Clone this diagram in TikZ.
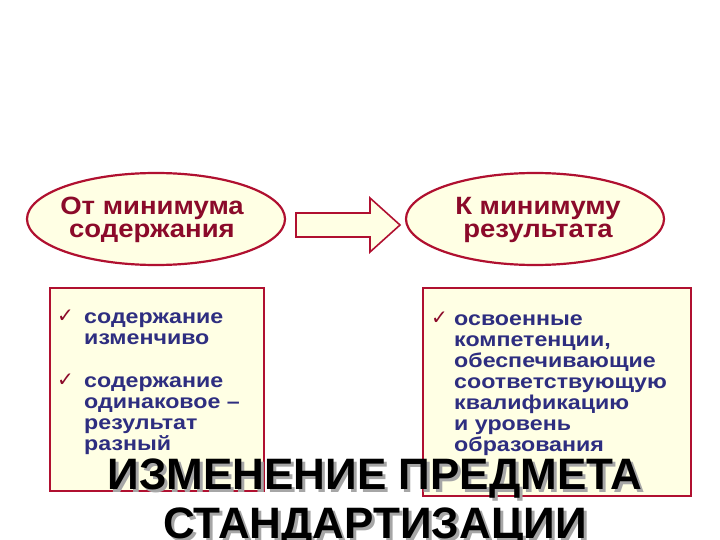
\documentclass[tikz,border=0pt]{standalone}
\usepackage{fontspec}
\setmainfont{Liberation Sans}
\newfontfamily\djv{DejaVu Sans}
\usetikzlibrary{shapes.geometric}
\definecolor{dred}{HTML}{B01030}
\definecolor{ttred}{HTML}{8B0A2A}
\definecolor{navy}{HTML}{2E2E80}
\definecolor{cream}{HTML}{FFFFE4}
\begin{document}
\begin{tikzpicture}[x=1pt,y=-1pt,
 oval/.style={ellipse,draw=dred,line width=2.2pt,fill=cream,minimum width=258pt,minimum height=92pt,inner sep=0pt},
 otext/.style={font=\fontsize{25}{25}\selectfont\bfseries,text=ttred,align=center,xscale=1.1,inner sep=0pt},
 box/.style={draw=dred,line width=1.6pt,inner sep=0pt},
 btext/.style={font=\fontsize{20}{21}\selectfont\bfseries,text=navy,align=left,anchor=north west,inner sep=0pt,xscale=1.16},
 chk/.style={font=\djv\fontsize{20}{20}\selectfont,text=ttred,anchor=north west,inner sep=0pt},
 title/.style={font=\fontsize{44}{44}\selectfont\bfseries,inner sep=0pt}]
\useasboundingbox (0,0) rectangle (720,540);
\node[oval] (l) at (156,219) {};
\node[oval] (r) at (535,219) {};
\node[otext] (lt) at (152,220) {От минимума\\[-2pt]содержания};
\node[otext] (rt) at (538,220) {К минимуму\\[-2pt]результата};
\fill[cream,draw=dred,line width=1.6pt] (296,213) -- (370,213) -- (370,198) -- (400,225) -- (370,252) -- (370,237) -- (296,237) -- cycle;
\node[box,fill=cream,minimum width=214pt,minimum height=203pt,anchor=north west] (lb) at (49,287) {};
\node[box,fill=cream,minimum width=268pt,minimum height=208pt,anchor=north west] (rb) at (422,287) {};
\node[chk] (c1) at (57,310) {✓};
\node[btext] (t1) at (84,313) {содержание\\изменчиво};
\node[chk] (c2) at (57,374) {✓};
\node[btext] (t2) at (84,377) {содержание\\одинаковое –\\результат\\разный};
\node[chk] (c3) at (431,312) {✓};
\node[btext] (t3) at (454,315) {освоенные\\компетенции,\\обеспечивающие\\соответствующую\\квалификацию\\и уровень\\образования};
\node[title,text=gray!70] at (378,482) {ИЗМЕНЕНИЕ ПРЕДМЕТА};
\node[title] (ti) at (375,479) {ИЗМЕНЕНИЕ ПРЕДМЕТА};
\node[title,text=gray!70] at (378,531) {СТАНДАРТИЗАЦИИ};
\node[title] (ti2) at (375,528) {СТАНДАРТИЗАЦИИ};
\end{tikzpicture}
\end{document}
